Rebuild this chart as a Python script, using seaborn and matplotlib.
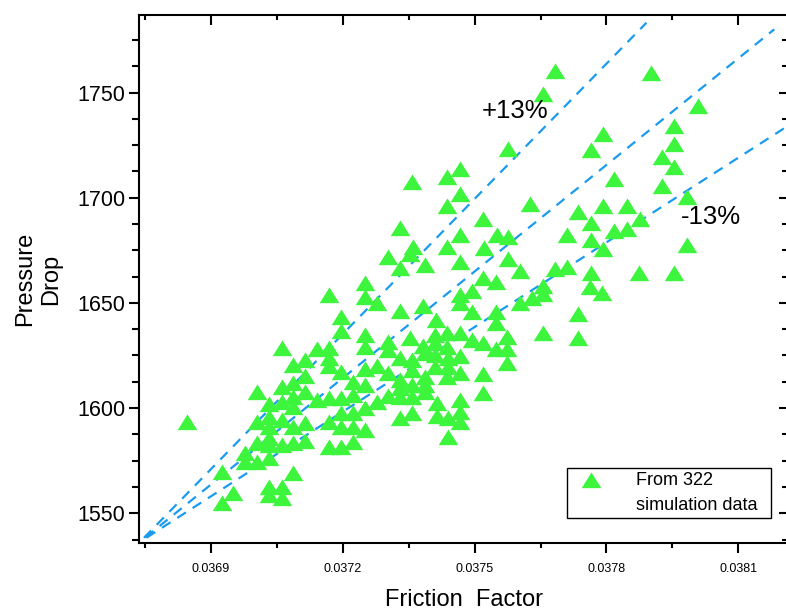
import numpy as np
import pandas as pd
import matplotlib
matplotlib.use("Agg")
import matplotlib.pyplot as plt
from matplotlib.ticker import MultipleLocator, AutoMinorLocator, FormatStrFormatter
from matplotlib.lines import Line2D
from matplotlib.path import Path
import seaborn as sns

# Data: friction factor vs pressure drop
friction = [
    0.037683, 0.037901, 0.037656, 0.038008, 0.037792, 0.037954, 0.037954, 0.037765,
    0.037576, 0.037927, 0.037954, 0.037467, 0.037437, 0.037357, 0.037817, 0.037927,
    0.037467, 0.037983, 0.037626, 0.037437, 0.037792, 0.037847, 0.037735, 0.037519,
    0.037876, 0.037765, 0.037330, 0.037817, 0.037847, 0.037551, 0.037576, 0.037710,
    0.037467, 0.037765, 0.037437, 0.037360, 0.037353, 0.037792, 0.037983, 0.037521,
    0.037576, 0.037467, 0.037387, 0.037330, 0.037303, 0.037603, 0.037683, 0.037710,
    0.037765, 0.037874, 0.037954, 0.037519, 0.037549, 0.037763, 0.037656, 0.037494,
    0.037467, 0.037467, 0.037656, 0.037631, 0.037603, 0.037790,
    0.037251, 0.037169, 0.037251, 0.037278, 0.037330, 0.037383, 0.037494, 0.037549,
    0.037549, 0.037735, 0.037656, 0.037735, 0.037467, 0.037494, 0.037519, 0.037574,
    0.037549, 0.037574, 0.037574, 0.037467, 0.037467, 0.037519, 0.037519, 0.037467,
    0.037467, 0.037467, 0.037439,
    0.037196, 0.037412, 0.037196, 0.037251, 0.037353, 0.037410, 0.037437, 0.037251,
    0.037303, 0.037303, 0.037383, 0.037387, 0.037410, 0.037410, 0.037437, 0.037439,
    0.037439, 0.037437, 0.037439,
    0.037141, 0.037169, 0.037169, 0.037169, 0.037330, 0.037357, 0.037410, 0.037196,
    0.037278, 0.037251, 0.037303, 0.037357, 0.037387, 0.037223, 0.037251, 0.037330,
    0.037357, 0.037330, 0.037387, 0.037387, 0.037330, 0.037357, 0.037303, 0.037223,
    0.037169, 0.037196, 0.037141, 0.037278, 0.037251, 0.037414, 0.037223, 0.037196,
    0.037330, 0.037357, 0.037414, 0.037169, 0.037196, 0.037223, 0.037251, 0.037223,
    0.037169, 0.037196,
    0.037062, 0.037114, 0.037087, 0.037114, 0.037005, 0.037062, 0.037087, 0.037087,
    0.037114, 0.037032, 0.037062, 0.037087, 0.036845, 0.037005, 0.037032, 0.037062,
    0.037032, 0.037087, 0.037114, 0.037005, 0.037032, 0.037032, 0.037062, 0.037087,
    0.037114, 0.036977, 0.036977, 0.037005, 0.037032, 0.036925, 0.037087, 0.036950,
    0.037032, 0.037062, 0.037032, 0.037062, 0.036925,
]
pressure = [
    1760.3, 1759.4, 1749.4, 1743.7, 1730.4, 1734.2, 1725.6, 1722.8,
    1723.2, 1719.4, 1714.7, 1713.7, 1709.9, 1707.5, 1709.0, 1705.6,
    1701.8, 1700.4, 1697.1, 1696.1, 1696.1, 1696.1, 1693.3, 1689.9,
    1689.9, 1688.0, 1685.7, 1684.2, 1685.2, 1682.3, 1681.4, 1682.3,
    1682.3, 1680.0, 1676.6, 1676.6, 1673.3, 1675.7, 1677.6, 1676.2,
    1670.9, 1669.5, 1668.1, 1666.6, 1671.9, 1665.2, 1666.2, 1667.1,
    1664.3, 1664.3, 1664.3, 1661.9, 1660.0, 1657.6, 1658.1, 1655.7,
    1653.8, 1650.0, 1654.3, 1652.4, 1650.0, 1654.8,
    1659.5, 1653.8, 1652.9, 1650.0, 1646.2, 1648.6, 1645.7, 1645.7,
    1640.5, 1644.8, 1635.7, 1633.4, 1635.7, 1632.4, 1631.0, 1633.8,
    1628.1, 1628.1, 1621.5, 1624.8, 1616.7, 1616.2, 1607.2, 1603.9,
    1598.2, 1593.4, 1586.3,
    1643.4, 1641.9, 1636.7, 1634.8, 1633.4, 1634.8, 1635.7, 1629.1,
    1631.5, 1627.7, 1629.6, 1626.2, 1631.0, 1625.3, 1629.1, 1623.9,
    1619.6, 1614.8, 1595.3,
    1628.1, 1628.6, 1623.9, 1620.1, 1623.9, 1622.9, 1619.6, 1617.2,
    1620.1, 1618.6, 1616.7, 1618.1, 1614.8, 1612.4, 1611.0, 1613.4,
    1611.0, 1609.6, 1611.0, 1607.7, 1605.3, 1605.3, 1605.8, 1606.3,
    1604.8, 1604.8, 1603.9, 1602.9, 1600.1, 1602.5, 1597.7, 1597.7,
    1595.3, 1597.7, 1596.3, 1593.4, 1591.0, 1591.0, 1589.6, 1583.9,
    1581.5, 1581.5,
    1628.6, 1622.9, 1620.5, 1615.3, 1607.7, 1610.1, 1612.0, 1605.3,
    1607.7, 1602.0, 1602.9, 1600.6, 1593.4, 1593.4, 1595.8, 1594.4,
    1591.0, 1591.0, 1592.9, 1583.4, 1585.8, 1582.5, 1582.5, 1583.4,
    1584.4, 1578.7, 1574.4, 1574.4, 1576.3, 1569.6, 1569.2, 1559.7,
    1562.5, 1562.5, 1558.7, 1557.3, 1554.9,
]

# dashed guide lines (+13%, centre, -13%) from a common pivot
guide_x0 = 0.0367384
guide_y0 = 1536.4
guide_slopes = [214142, 168807, 134126]
guide_x_end = [0.037891, 0.038182, 0.03830]

series_label = "From 322"
series_label2 = "simulation data  "

df = pd.DataFrame({"Friction Factor": friction, "Pressure Drop": pressure})

sns.set_style("ticks")
plt.rcParams["font.family"] = ["Liberation Sans", "DejaVu Sans"]
plt.rcParams["text.color"] = "black"
plt.rcParams["axes.labelcolor"] = "black"
plt.rcParams["xtick.color"] = "black"
plt.rcParams["ytick.color"] = "black"

fig = plt.figure(figsize=(7.86, 6.10), dpi=100)
ax = fig.add_axes([139 / 786, 1 - 543.3 / 610, 650 / 786, 528.3 / 610])

line_color = "#1a9bf0"
for slope, x_end in zip(guide_slopes, guide_x_end):
    xs = np.array([guide_x0 - 0.00002, x_end])
    ys = guide_y0 + slope * (xs - guide_x0)
    ax.plot(xs, ys, color=line_color, lw=1.6, dashes=(4.6, 3.6), zorder=1)

tri = Path([(-1, -0.78), (1, -0.78), (0, 0.82), (-1, -0.78)],
           [Path.MOVETO, Path.LINETO, Path.LINETO, Path.CLOSEPOLY])
sns.scatterplot(data=df, x="Friction Factor", y="Pressure Drop", ax=ax,
                marker=tri, s=200, color="#3cf53c", linewidth=0,
                label=series_label, zorder=3)

ax.set_xlim(0.036736, 0.0382155)
ax.set_ylim(1535.7, 1786.9)

ax.xaxis.set_major_locator(MultipleLocator(0.0003))
ax.xaxis.set_minor_locator(AutoMinorLocator(2))
ax.xaxis.set_major_formatter(FormatStrFormatter("%.4f"))
ax.yaxis.set_major_locator(MultipleLocator(50))
ax.yaxis.set_minor_locator(AutoMinorLocator(4))

for sp in ax.spines.values():
    sp.set_linewidth(1.5)
    sp.set_color("black")

ax.tick_params(axis="x", which="both", bottom=True, top=True, labelsize=9,
               pad=7, width=1.5, color="black", labelcolor="black")
ax.tick_params(axis="x", which="major", length=7)
ax.tick_params(axis="x", which="minor", length=3.5)
ax.tick_params(axis="y", which="both", left=True, right=True, labelsize=15.5,
               pad=2.5, width=1.5, color="black", labelcolor="black")
ax.tick_params(axis="y", which="major", length=7.5)
ax.tick_params(axis="y", which="minor", length=5)
ax.xaxis.set_tick_params(which="both", direction="out")
ax.yaxis.set_tick_params(which="both", direction="out")
for t in ax.xaxis.get_ticklines(minor=False)[1::2] + ax.xaxis.get_ticklines(minor=True)[1::2]:
    t.set_marker(3)  # top ticks pointing inward
for t in ax.yaxis.get_ticklines(minor=False)[1::2] + ax.yaxis.get_ticklines(minor=True)[1::2]:
    t.set_marker(0)  # right ticks pointing inward

ax.set_xlabel("Friction  Factor", fontsize=17, va="top", color="black")
ax.xaxis.set_label_coords(0.5, -0.086)
ax.set_ylabel("Pressure\nDrop", fontsize=17, va="center", linespacing=1.25, color="black")
ax.yaxis.set_label_coords(-0.155, 0.5)

ax.text(0.037517, 1741.3, "+13%", fontsize=18.5, ha="left", va="center", color="black")
ax.text(0.03797, 1690.9, "-13%", fontsize=18.5, ha="left", va="center", color="black")

handles, labels = ax.get_legend_handles_labels()
handles.append(Line2D([], [], linestyle="none"))
labels.append(series_label2)
leg = ax.legend(handles, labels, loc="lower right", bbox_to_anchor=(0.972, 0.048),
                fontsize=13, frameon=True, fancybox=False, edgecolor="black",
                framealpha=1, handlelength=2.16, handletextpad=1.42,
                borderpad=0.2, labelspacing=0.46, borderaxespad=0,
                labelcolor="black")
leg.get_frame().set_linewidth(1.0)

fig.savefig("out.png", dpi=100, facecolor="white")
